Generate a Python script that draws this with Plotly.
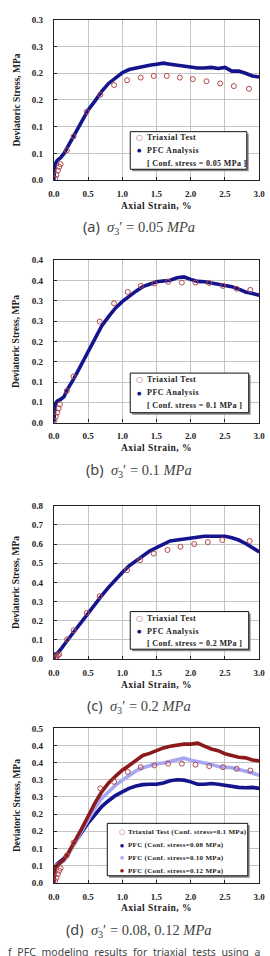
import plotly.graph_objects as go

# ---------------- data ----------------
x_ticks = [0.0, 0.5, 1.0, 1.5, 2.0, 2.5, 3.0]
x_ticktext = ["0.0", "0.5", "1.0", "1.5", "2.0", "2.5", "3.0"]

# (a) confining stress 0.05 MPa
a_y_tickvals = [0.0, 0.05, 0.10, 0.15, 0.20, 0.25, 0.30]
a_y_ticktext = ["0.0", "0.1", "0.1", "0.2", "0.2", "0.3", "0.3"]
a_pfc_x = [0, 0.01, 0.02, 0.05, 0.1, 0.15, 0.2, 0.3, 0.4, 0.5, 0.6, 0.7, 0.8, 0.9, 1.0,
           1.1, 1.2, 1.3, 1.4, 1.5, 1.6, 1.7, 1.8, 1.9, 2.0, 2.1, 2.2, 2.3, 2.4, 2.5,
           2.6, 2.7, 2.8, 2.9, 3.0]
a_pfc_y = [0, 0.022, 0.03, 0.037, 0.042, 0.05, 0.062, 0.083, 0.108, 0.131, 0.148, 0.166,
           0.181, 0.19, 0.201, 0.207, 0.21, 0.213, 0.215, 0.217, 0.219, 0.217, 0.215,
           0.213, 0.212, 0.21, 0.21, 0.211, 0.209, 0.211, 0.204, 0.204, 0.2, 0.195, 0.193]
a_test_x = [0.02, 0.04, 0.06, 0.08, 0.1, 0.19, 0.29, 0.48, 0.68, 0.88, 1.07, 1.27, 1.46,
            1.65, 1.84, 2.03, 2.23, 2.43, 2.63, 2.85]
a_test_y = [0.003, 0.01, 0.018, 0.025, 0.03, 0.056, 0.082, 0.128, 0.16, 0.178, 0.187,
            0.192, 0.195, 0.195, 0.192, 0.189, 0.185, 0.181, 0.176, 0.171]

# (b) confining stress 0.1 MPa
b_y_tickvals = [0.0, 0.05, 0.10, 0.15, 0.20, 0.25, 0.30, 0.35, 0.40]
b_y_ticktext = ["0.0", "0.1", "0.1", "0.2", "0.2", "0.3", "0.3", "0.4", "0.4"]
b_pfc_x = [0, 0.01, 0.02, 0.05, 0.1, 0.15, 0.2, 0.3, 0.4, 0.5, 0.6, 0.7, 0.8, 0.9, 1.0,
           1.1, 1.2, 1.3, 1.4, 1.5, 1.6, 1.7, 1.8, 1.9, 2.0, 2.1, 2.2, 2.3, 2.4, 2.5,
           2.6, 2.7, 2.8, 2.9, 3.0]
b_pfc_y = [0, 0.03, 0.045, 0.053, 0.057, 0.064, 0.082, 0.110, 0.143, 0.176, 0.208, 0.238,
           0.261, 0.282, 0.298, 0.312, 0.324, 0.335, 0.340, 0.347, 0.349, 0.351, 0.357,
           0.359, 0.353, 0.348, 0.347, 0.344, 0.339, 0.336, 0.335, 0.329, 0.322, 0.318,
           0.314]
b_test_x = [0.01, 0.03, 0.05, 0.07, 0.09, 0.19, 0.29, 0.67, 0.88, 1.08, 1.27, 1.47, 1.67,
            1.87, 2.07, 2.27, 2.47, 2.67, 2.87]
b_test_y = [0.005, 0.015, 0.025, 0.035, 0.045, 0.078, 0.114, 0.249, 0.294, 0.322, 0.337,
            0.343, 0.347, 0.345, 0.345, 0.344, 0.337, 0.33, 0.327]

# (c) confining stress 0.2 MPa
c_y_tickvals = [0.0, 0.1, 0.2, 0.3, 0.4, 0.5, 0.6, 0.7, 0.8]
c_y_ticktext = ["0.0", "0.1", "0.2", "0.3", "0.4", "0.5", "0.6", "0.7", "0.8"]
c_pfc_x = [0, 0.01, 0.02, 0.05, 0.1, 0.2, 0.3, 0.4, 0.5, 0.6, 0.7, 0.8, 0.9, 1.0, 1.1,
           1.2, 1.3, 1.4, 1.5, 1.6, 1.7, 1.8, 1.9, 2.0, 2.1, 2.2, 2.3, 2.4, 2.5, 2.6,
           2.7, 2.8, 2.9, 3.0]
c_pfc_y = [0, 0.015, 0.025, 0.03, 0.05, 0.098, 0.145, 0.193, 0.241, 0.288, 0.331, 0.374,
           0.414, 0.452, 0.486, 0.512, 0.538, 0.564, 0.581, 0.598, 0.616, 0.621, 0.627,
           0.633, 0.637, 0.641, 0.641, 0.641, 0.641, 0.633, 0.621, 0.603, 0.581, 0.559]
c_test_x = [0.02, 0.04, 0.06, 0.08, 0.195, 0.29, 0.48, 0.67, 1.07, 1.26, 1.46, 1.66,
            1.85, 2.05, 2.25, 2.46, 2.86]
c_test_y = [0.005, 0.012, 0.02, 0.025, 0.103, 0.15, 0.241, 0.328, 0.464, 0.516, 0.55,
            0.569, 0.586, 0.6, 0.61, 0.621, 0.616]

# (d) confining stresses 0.08, 0.10, 0.12 MPa
d_y_tickvals = [0.0, 0.05, 0.10, 0.15, 0.20, 0.25, 0.30, 0.35, 0.40, 0.45]
d_y_ticktext = ["0.0", "0.1", "0.1", "0.2", "0.2", "0.3", "0.3", "0.4", "0.4", "0.5"]
d_pfc_x = [0, 0.01, 0.02, 0.05, 0.1, 0.15, 0.2, 0.3, 0.4, 0.5, 0.6, 0.7, 0.8, 0.9, 1.0,
           1.1, 1.2, 1.3, 1.4, 1.5, 1.6, 1.7, 1.8, 1.9, 2.0, 2.1, 2.2, 2.3, 2.4, 2.5,
           2.6, 2.7, 2.8, 2.9, 3.0]
d_pfc008_y = [0, 0.03, 0.045, 0.055, 0.064, 0.07, 0.08, 0.115, 0.146, 0.174, 0.198, 0.222,
              0.239, 0.254, 0.265, 0.275, 0.282, 0.286, 0.287, 0.287, 0.291, 0.297, 0.3,
              0.299, 0.294, 0.287, 0.287, 0.289, 0.287, 0.284, 0.28, 0.278, 0.277, 0.278,
              0.275]
d_pfc010_y = [0, 0.03, 0.045, 0.052, 0.057, 0.064, 0.08, 0.114, 0.15, 0.186, 0.217, 0.246,
              0.265, 0.284, 0.299, 0.313, 0.326, 0.335, 0.342, 0.347, 0.349, 0.354, 0.358,
              0.363, 0.357, 0.352, 0.349, 0.345, 0.339, 0.337, 0.335, 0.33, 0.326, 0.32,
              0.313]
d_pfc012_y = [0, 0.03, 0.045, 0.05, 0.059, 0.068, 0.083, 0.117, 0.155, 0.193, 0.232, 0.265,
              0.291, 0.31, 0.328, 0.342, 0.356, 0.371, 0.377, 0.385, 0.393, 0.398, 0.401,
              0.404, 0.404, 0.407, 0.398, 0.39, 0.385, 0.376, 0.371, 0.366, 0.364, 0.358,
              0.355]
d_test_x = [0.02, 0.04, 0.06, 0.08, 0.1, 0.19, 0.29, 0.68, 0.88, 1.08, 1.27, 1.47, 1.67,
            1.87, 2.07, 2.27, 2.47, 2.67, 2.87]
d_test_y = [0.005, 0.015, 0.025, 0.035, 0.042, 0.079, 0.117, 0.275, 0.294, 0.323, 0.337,
            0.342, 0.347, 0.347, 0.344, 0.34, 0.337, 0.332, 0.327]

captions = [
    ("(a)", "0.05"),
    ("(b)", "0.1"),
    ("(c)", "0.2"),
    ("(d)", "0.08, 0.12"),
]
legend_abc = ["Triaxial Test", "PFC Analysis"]
conf_labels = ["[ Conf. stress = 0.05 MPa ]", "[ Conf. stress = 0.1 MPa ]",
               "[ Conf. stress = 0.2 MPa ]"]
legend_d = ["Triaxial Test (Conf. stress=0.1 MPa)", "PFC (Conf. stress=0.08 MPa)",
            "PFC (Conf. stress=0.10 MPa)", "PFC (Conf. stress=0.12 MPa)"]
bottom_caption = "f PFC modeling results for triaxial tests using a"

# ---------------- styling ----------------
W, H = 270, 956
NAVY = "#14148c"
LAV = "#a6a6f2"
DRED = "#8c1a1a"
TEST = "#b24a4a"
SERIF = "Liberation Serif"


def px(x):
    return x / W


def py(y):
    return 1 - y / H


panels = [
    dict(top=15, bottom=177, yt=a_y_tickvals, ytt=a_y_ticktext, yr=[0, 0.3]),
    dict(top=258, bottom=422, yt=b_y_tickvals, ytt=b_y_ticktext, yr=[0, 0.4]),
    dict(top=506, bottom=661, yt=c_y_tickvals, ytt=c_y_ticktext, yr=[0, 0.8]),
    dict(top=731, bottom=887, yt=d_y_tickvals, ytt=d_y_ticktext, yr=[0, 0.45]),
]

fig = go.Figure()


def add_line(i, x, y, color):
    ax = "" if i == 0 else str(i + 1)
    fig.add_trace(go.Scatter(x=x, y=y, mode="lines", xaxis="x" + ax, yaxis="y" + ax,
                             line=dict(color=color, width=3.6), showlegend=False,
                             hoverinfo="skip"))


def add_test(i, x, y):
    ax = "" if i == 0 else str(i + 1)
    fig.add_trace(go.Scatter(x=x, y=y, mode="markers", xaxis="x" + ax, yaxis="y" + ax,
                             marker=dict(symbol="circle-open", size=5, color=TEST,
                                         line=dict(width=1, color=TEST)),
                             showlegend=False, hoverinfo="skip"))


add_line(0, a_pfc_x, a_pfc_y, NAVY)
add_test(0, a_test_x, a_test_y)
add_line(1, b_pfc_x, b_pfc_y, NAVY)
add_test(1, b_test_x, b_test_y)
add_line(2, c_pfc_x, c_pfc_y, NAVY)
add_test(2, c_test_x, c_test_y)
add_line(3, d_pfc_x, d_pfc008_y, NAVY)
add_line(3, d_pfc_x, d_pfc010_y, LAV)
add_line(3, d_pfc_x, d_pfc012_y, DRED)
add_test(3, d_test_x, d_test_y)

layout = dict(width=W, height=H, margin=dict(l=0, r=0, t=0, b=0),
              paper_bgcolor="white", plot_bgcolor="white", showlegend=False)

tickfont = dict(family=SERIF, size=9, color="#222", weight="bold")
annotations = []
shapes = []

for i, p in enumerate(panels):
    ax = "" if i == 0 else str(i + 1)
    layout["xaxis" + ax] = dict(
        domain=[px(50), px(265)], anchor="y" + ax, range=[0, 3],
        tickvals=x_ticks, ticktext=x_ticktext, tickfont=tickfont,
        ticks="inside", ticklen=3, tickcolor="#222", showline=True, mirror=True,
        linecolor="#222", linewidth=1.2, showgrid=True, gridcolor="#c4c4c4",
        gridwidth=1, zeroline=False, ticklabelstandoff=5, ticklabeloverflow="allow")
    layout["yaxis" + ax] = dict(
        domain=[py(p["bottom"]), py(p["top"])], anchor="x" + ax, range=p["yr"],
        tickvals=p["yt"], ticktext=p["ytt"], tickfont=tickfont,
        ticks="inside", ticklen=3, tickcolor="#222", showline=True, mirror=True,
        linecolor="#222", linewidth=1.2, showgrid=True, gridcolor="#c4c4c4",
        gridwidth=1, zeroline=False, ticklabelstandoff=8, ticklabeloverflow="allow")
    mid = (p["top"] + p["bottom"]) / 2
    annotations.append(dict(
        text="Deviatoric Stress, MPa", textangle=-90, xref="paper", yref="paper",
        x=px(11), y=py(mid), xanchor="center", yanchor="middle", showarrow=False,
        font=dict(family=SERIF, size=9.5, color="#222", weight="bold")))
    annotations.append(dict(
        text="<span style='letter-spacing:0.5px'>Axial Strain, %</span>",
        xref="paper", yref="paper", x=px(157), y=py(p["bottom"] + 26),
        xanchor="center", yanchor="middle", showarrow=False,
        font=dict(family=SERIF, size=9.5, color="#222", weight="bold")))
    lab, val = captions[i]
    annotations.append(dict(
        text=("<span style='font-family:Noto Sans'>" + lab + "</span>&nbsp;&nbsp;"
              "<i>σ</i><sub>3</sub>′ = " + val + " <i>MPa</i>"),
        xref="paper", yref="paper", x=px(139), y=py(p["bottom"] + 47),
        xanchor="center", yanchor="middle", showarrow=False,
        font=dict(family=SERIF, size=14.5, color="#444")))

leg_boxes = [
    dict(x0=130, x1=252, y0=128, y1=166, rows=[134, 147, 160]),
    dict(x0=130, x1=254, y0=372, y1=412, rows=[378, 392, 405]),
    dict(x0=130, x1=254, y0=613, y1=651, rows=[620, 633, 645]),
]
for i, b in enumerate(leg_boxes):
    shapes.append(dict(type="rect", xref="paper", yref="paper",
                       x0=px(b["x0"] + 2), x1=px(b["x1"] + 2), y0=py(b["y1"] + 2),
                       y1=py(b["y0"] + 2), fillcolor="#8a8a8a", line=dict(width=0),
                       layer="above"))
    shapes.append(dict(type="rect", xref="paper", yref="paper",
                       x0=px(b["x0"]), x1=px(b["x1"]), y0=py(b["y1"]), y1=py(b["y0"]),
                       fillcolor="white", line=dict(color="#111", width=1),
                       layer="above"))
    marks = [("○", TEST, 8), ("●", NAVY, 5)]
    for r in range(2):
        annotations.append(dict(
            text=marks[r][0], xref="paper", yref="paper", x=px(140), y=py(b["rows"][r]),
            xanchor="center", yanchor="middle", showarrow=False,
            font=dict(family="DejaVu Sans", size=marks[r][2], color=marks[r][1])))
        annotations.append(dict(
            text="<span style='letter-spacing:0.5px'>" + legend_abc[r] + "</span>",
            xref="paper", yref="paper", x=px(145), y=py(b["rows"][r]),
            xanchor="left", yanchor="middle", showarrow=False,
            font=dict(family=SERIF, size=8, color="#222", weight="bold")))
    annotations.append(dict(
        text="<span style='letter-spacing:0.35px'>" + conf_labels[i] + "</span>",
        xref="paper", yref="paper", x=px(145), y=py(b["rows"][2]),
        xanchor="left", yanchor="middle", showarrow=False,
        font=dict(family=SERIF, size=8, color="#222", weight="bold")))

bd = dict(x0=106, x1=253, y0=827, y1=880, rows=[836, 849, 862, 875])
shapes.append(dict(type="rect", xref="paper", yref="paper",
                   x0=px(bd["x0"] + 2), x1=px(bd["x1"] + 2), y0=py(bd["y1"] + 2),
                   y1=py(bd["y0"] + 2), fillcolor="#8a8a8a", line=dict(width=0),
                   layer="above"))
shapes.append(dict(type="rect", xref="paper", yref="paper",
                   x0=px(bd["x0"]), x1=px(bd["x1"]), y0=py(bd["y1"]), y1=py(bd["y0"]),
                   fillcolor="white", line=dict(color="#111", width=1), layer="above"))
marks_d = [("○", TEST, 7), ("●", NAVY, 4.5), ("●", LAV, 4.5), ("●", DRED, 4.5)]
for r in range(4):
    annotations.append(dict(
        text=marks_d[r][0], xref="paper", yref="paper", x=px(121), y=py(bd["rows"][r]),
        xanchor="center", yanchor="middle", showarrow=False,
        font=dict(family="DejaVu Sans", size=marks_d[r][2], color=marks_d[r][1])))
    annotations.append(dict(
        text="<span style='letter-spacing:0.3px'>" + legend_d[r] + "</span>",
        xref="paper", yref="paper", x=px(126), y=py(bd["rows"][r]),
        xanchor="left", yanchor="middle", showarrow=False,
        font=dict(family=SERIF, size=7, color="#222", weight="bold")))

# partially visible figure caption at the bottom
annotations.append(dict(
    text="<span style='word-spacing:3px'>" + bottom_caption + "</span>",
    xref="paper", yref="paper", x=px(0), y=py(957), xanchor="left",
    yanchor="middle", showarrow=False,
    font=dict(family="Noto Sans", size=10.5, color="#444")))

layout["annotations"] = annotations
layout["shapes"] = shapes
fig.update_layout(**layout)
fig.write_html("out.html")
